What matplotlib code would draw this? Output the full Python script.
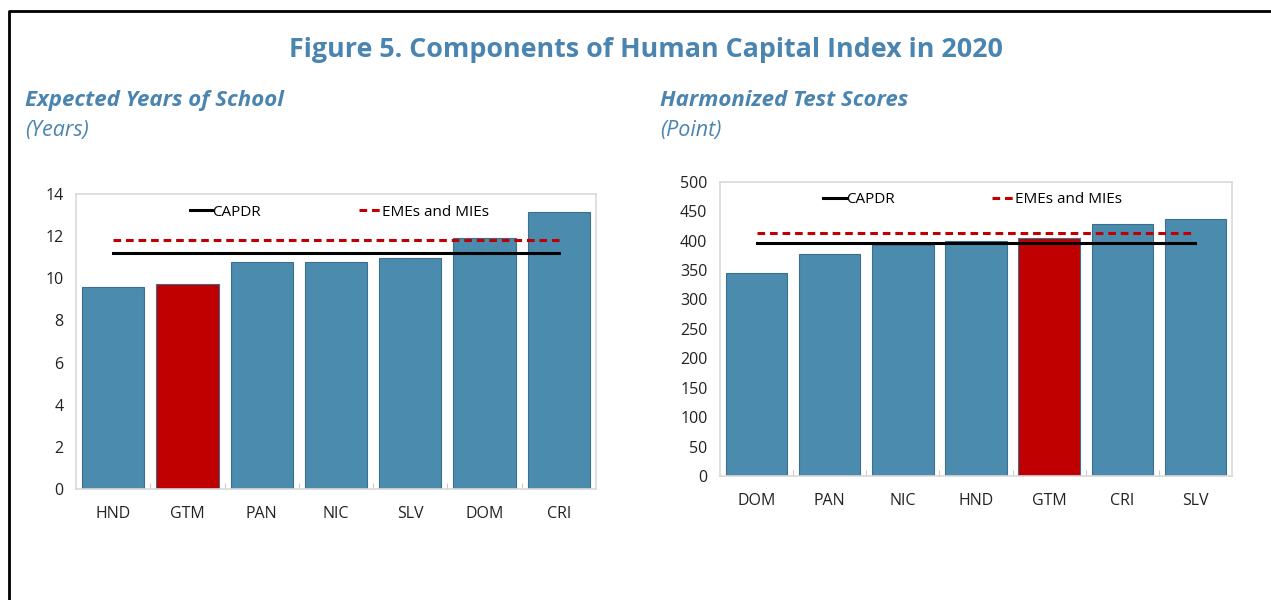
import numpy as np
import matplotlib
matplotlib.use('Agg')
import matplotlib.pyplot as plt
from matplotlib.lines import Line2D

plt.rcParams['font.family'] = ['Open Sans', 'DejaVu Sans']

# left panel: expected years of school
school_countries = ['HND', 'GTM', 'PAN', 'NIC', 'SLV', 'DOM', 'CRI']
school_years = [9.6, 9.73, 10.77, 10.78, 10.95, 11.9, 13.13]
school_capdr = 11.18
school_emes = 11.83

# right panel: harmonized test scores
test_countries = ['DOM', 'PAN', 'NIC', 'HND', 'GTM', 'CRI', 'SLV']
test_scores = [345, 377, 392, 400, 405, 428, 436]
test_capdr = 396
test_emes = 413

blue = '#4b8bae'
red = '#c00000'
head = '#4a84b0'


def panel(ax, cats, vals, capdr, emes, ymax, step, legend_x):
    x = np.arange(len(cats))
    cols = [red if c == 'GTM' else blue for c in cats]
    ax.bar(x, vals, width=0.84, color=cols, edgecolor='#3c6f8b', linewidth=0.8, zorder=2)
    ax.plot([x[0], x[-1]], [capdr, capdr], color='black', lw=2.2, label='CAPDR', zorder=3)
    ax.plot([x[0], x[-1]], [emes, emes], color=red, lw=2.2, ls=(0, (2.5, 1.6)),
            label='EMEs and MIEs', zorder=3)
    ax.set_xlim(-0.5, len(cats) - 0.5)
    ax.set_ylim(0, ymax)
    ax.set_yticks(np.arange(0, ymax + 1, step))
    ax.set_xticks(x)
    ax.set_xticklabels(cats)
    ax.set_xticks(np.arange(0.5, len(cats) - 1, 1), minor=True)
    ax.tick_params(axis='both', which='major', length=0, labelsize=11.5, colors='#222222')
    ax.tick_params(axis='x', which='major', pad=12)
    ax.tick_params(axis='y', which='major', pad=9)
    ax.tick_params(axis='x', which='minor', direction='in', length=4, color='#bfbfbf')
    for s in ax.spines.values():
        s.set_color('#d9d9d9')
        s.set_linewidth(1.2)
    ax.legend(loc='upper center', bbox_to_anchor=(legend_x, 1.0), ncol=2, frameon=False,
              fontsize=11, handlelength=1.5, handletextpad=0.0, columnspacing=6.4,
              borderaxespad=0.3)


fig = plt.figure(figsize=(12.71, 6.0), dpi=100)

ax1 = fig.add_axes([76 / 1271, 0.185, 520 / 1271, 0.4917])
panel(ax1, school_countries, school_years, school_capdr, school_emes, 14, 2, 0.506)

ax2 = fig.add_axes([720 / 1271, 0.2067, 512 / 1271, 0.4905])
panel(ax2, test_countries, test_scores, test_capdr, test_emes, 500, 50, 0.493)

fig.text(0.508, 0.917, 'Figure 5. Components of Human Capital Index in 2020',
         ha='center', va='center', fontsize=19.4, fontweight='bold', color=head)
fig.text(25 / 1271, 0.833, 'Expected Years of School', ha='left', va='center',
         fontsize=16, fontweight='bold', style='italic', color=head)
fig.text(25 / 1271, 0.783, '(Years)', ha='left', va='center',
         fontsize=15.5, style='italic', color=head)
fig.text(660 / 1271, 0.833, 'Harmonized Test Scores', ha='left', va='center',
         fontsize=16, fontweight='bold', style='italic', color=head)
fig.text(660 / 1271, 0.783, '(Point)', ha='left', va='center',
         fontsize=15.5, style='italic', color=head)

# frame around the figure (top and left edges only visible)
fig.add_artist(Line2D([9 / 1271, 9 / 1271, 1.0], [0.0, 1 - 11 / 600, 1 - 11 / 600],
                      transform=fig.transFigure, color='black', lw=2))

fig.savefig('out.png', dpi=100)
